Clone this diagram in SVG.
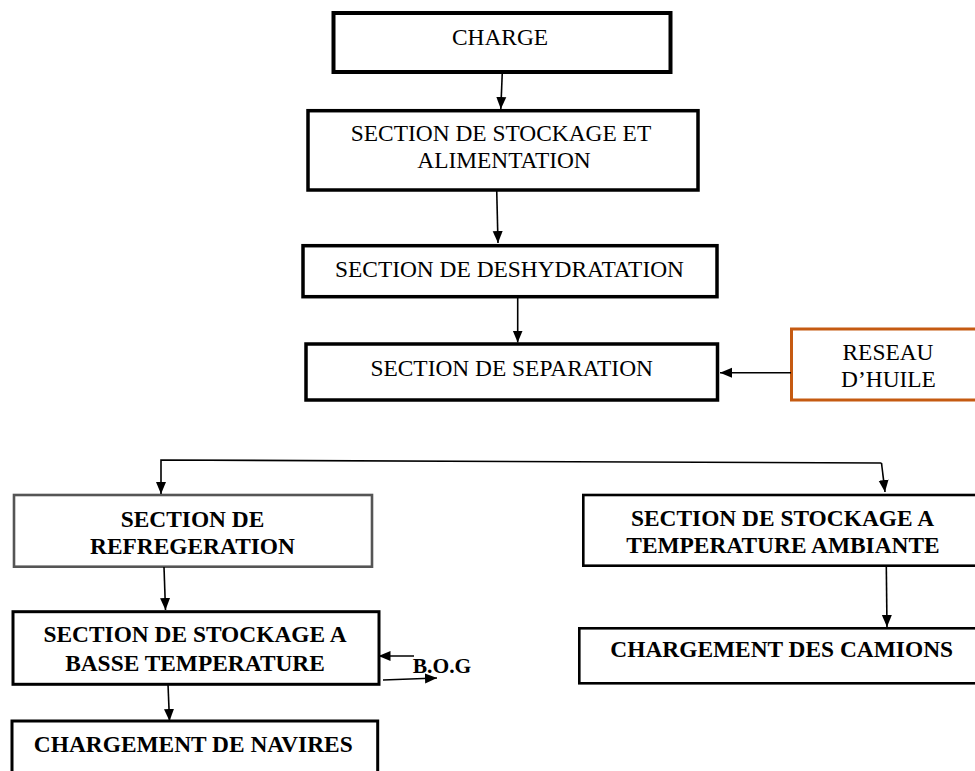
<svg xmlns="http://www.w3.org/2000/svg" width="975" height="771" viewBox="0 0 975 771">
<style>
text{font-family:"Liberation Serif","DejaVu Serif","Times New Roman",serif;font-size:23.4px;fill:#000;text-anchor:middle}
.b{font-weight:bold}
.box{fill:#fff;stroke:#000}
.thick{stroke-width:4}
.med{stroke-width:3.5}
.thin{stroke-width:2.6}
.gray{stroke:#555;stroke-width:2.6}
.orange{fill:#fff;stroke:#c55a11;stroke-width:3}
.conn{fill:none;stroke:#000;stroke-width:1.6}
</style>
<defs>
<marker id="ah" markerUnits="userSpaceOnUse" markerWidth="13" markerHeight="12" refX="12" refY="6" orient="auto">
<path d="M0,1 L12,6 L0,11 z" fill="#000"/>
</marker>
</defs>
<rect width="975" height="771" fill="#fff"/>
<g id="charge">
<rect class="box thick" x="333.5" y="13" width="337" height="59"/>
<text x="500" y="44.5">CHARGE</text>
</g>
<g id="stockage-alimentation">
<rect class="box med" x="308" y="110.7" width="390" height="79.3"/>
<text x="501" y="140.7">SECTION DE STOCKAGE ET</text>
<text x="504" y="168.3">ALIMENTATION</text>
</g>
<g id="deshydratation">
<rect class="box med" x="303" y="245.7" width="414" height="51"/>
<text x="509.5" y="276.7">SECTION DE DESHYDRATATION</text>
</g>
<g id="separation">
<rect class="box med" x="306" y="344" width="411.5" height="56"/>
<text x="511.7" y="376">SECTION DE SEPARATION</text>
</g>
<g id="reseau-huile">
<rect class="orange" x="791.5" y="329" width="190" height="71"/>
<text x="888" y="360">RESEAU</text>
<text x="888.5" y="387">D’HUILE</text>
</g>
<g id="refregeration">
<rect class="box gray" x="14" y="495" width="358" height="71.7"/>
<text class="b" x="192.5" y="526.7">SECTION DE</text>
<text class="b" x="192.5" y="554">REFREGERATION</text>
</g>
<g id="stockage-ambiante">
<rect class="box thin" x="583.3" y="495" width="395" height="70.7" stroke="#222"/>
<text class="b" x="782.5" y="526">SECTION DE STOCKAGE A</text>
<text class="b" x="783" y="553.3">TEMPERATURE AMBIANTE</text>
</g>
<g id="stockage-basse">
<rect class="box" stroke-width="3" x="13" y="611.7" width="366" height="72.6"/>
<text class="b" x="195" y="641.7">SECTION DE STOCKAGE A</text>
<text class="b" x="195" y="670.7">BASSE TEMPERATURE</text>
</g>
<g id="bog">
<text class="b" x="442" y="673" style="font-size:21.5px">B.O.G</text>
</g>
<g id="chargement-camions">
<rect class="box thin" x="579.3" y="628.3" width="400" height="55" stroke="#333"/>
<text class="b" x="781.7" y="656.7">CHARGEMENT DES CAMIONS</text>
</g>
<g id="chargement-navires">
<rect class="box" stroke-width="3" x="12" y="721" width="365.7" height="70"/>
<text class="b" x="193.3" y="751.7">CHARGEMENT DE NAVIRES</text>
</g>
<g id="connectors">
<path class="conn" d="M502.3,72 L500.8,109" marker-end="url(#ah)"/>
<path class="conn" d="M496.7,190 L498,243" marker-end="url(#ah)"/>
<path class="conn" d="M517.7,297 L517.7,342.5" marker-end="url(#ah)"/>
<path class="conn" d="M791,372.7 L720,372.7" marker-end="url(#ah)"/>
<path class="conn" d="M881.5,463 L161,460 L161,494" marker-end="url(#ah)"/>
<path class="conn" d="M881.5,463 L885,492" marker-end="url(#ah)"/>
<path class="conn" d="M164,567 L165.5,610" marker-end="url(#ah)"/>
<path class="conn" d="M414,656 L378.5,656" marker-end="url(#ah)"/>
<path class="conn" d="M383,680 L437,678" marker-end="url(#ah)"/>
<path class="conn" d="M168,684.3 L169.5,721" marker-end="url(#ah)"/>
<path class="conn" d="M886.3,566 L887,627" marker-end="url(#ah)"/>
</g>
</svg>
